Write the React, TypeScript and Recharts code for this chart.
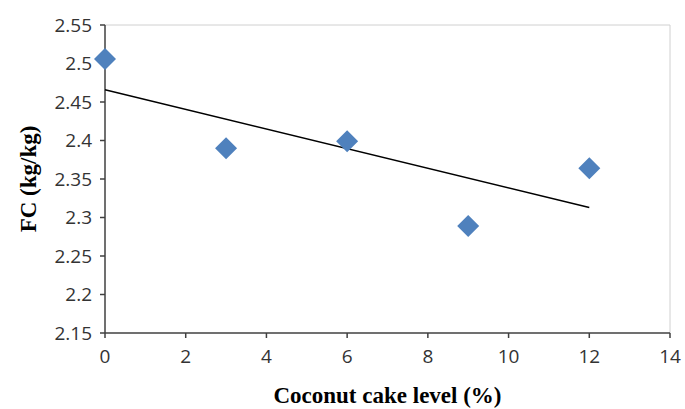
import { ReferenceLine, Scatter, ScatterChart, XAxis, YAxis } from 'recharts';

const levels = [0, 3, 6, 9, 12];
const fcValues = [2.506, 2.39, 2.399, 2.289, 2.364];
// linear trend, endpoints
const trendLevels = [0, 12];
const trendValues = [2.466, 2.313];

const xTicks = [0, 2, 4, 6, 8, 10, 12, 14];
const yTicks = [2.15, 2.2, 2.25, 2.3, 2.35, 2.4, 2.45, 2.5, 2.55];

const points = levels.map((x, i) => ({ x, y: fcValues[i] }));
const trend = trendLevels.map((x, i) => ({ x, y: trendValues[i] }));

const AXIS = '#404040';
const tickStyle = { fill: '#333', fontSize: 19, fontFamily: '"Open Sans", sans-serif' };
const labelStyle = { fill: '#000', fontSize: 23, fontWeight: 'bold', fontFamily: '"Liberation Serif", "Times New Roman", serif' };

const Diamond = (props: any) => {
  const { cx, cy } = props;
  const r = 11;
  return <polygon points={`${cx},${cy - r} ${cx + r},${cy} ${cx},${cy + r} ${cx - r},${cy}`} fill="#4f81bd" />;
};

const NoDot = () => <g />;

export default function App() {
  return (
    <div style={{ position: 'absolute', left: 0, top: 0, background: '#fff' }}>
      <ScatterChart width={685} height={409} margin={{ top: 25, right: 15, bottom: 0, left: 0 }}>
        <ReferenceLine y={2.55} stroke="#d0d0d0" strokeWidth={1} />
        <ReferenceLine x={14} stroke="#d0d0d0" strokeWidth={1} />
        <XAxis
          type="number"
          dataKey="x"
          domain={[0, 14]}
          ticks={xTicks}
          height={76}
          tick={tickStyle}
          tickSize={5}
          tickMargin={12}
          stroke={AXIS}
          strokeWidth={1.5}
          label={{ value: 'Coconut cake level (%)', position: 'insideBottom', offset: 6, style: labelStyle }}
        />
        <YAxis
          type="number"
          dataKey="y"
          domain={[2.15, 2.55]}
          ticks={yTicks}
          width={105}
          tick={tickStyle}
          tickSize={5}
          tickMargin={8}
          stroke={AXIS}
          strokeWidth={1.5}
          tickFormatter={(v: number) => String(Number(v.toFixed(2)))}
          label={{ value: 'FC (kg/kg)', angle: -90, position: 'insideLeft', offset: 28, style: { ...labelStyle, textAnchor: 'middle' } }}
        />
        <Scatter data={trend} line={{ stroke: '#000', strokeWidth: 1.5 }} shape={NoDot} isAnimationActive={false} />
        <Scatter data={points} shape={Diamond} isAnimationActive={false} />
      </ScatterChart>
    </div>
  );
}
